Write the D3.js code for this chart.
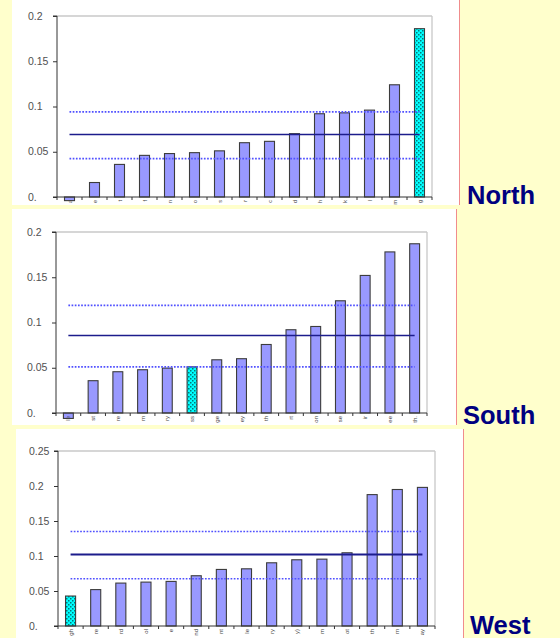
<!DOCTYPE html>
<html>
<head>
<meta charset="utf-8">
<script src="https://cdn.jsdelivr.net/npm/d3@7"></script>
<style>
  html, body { margin: 0; padding: 0; background: #FFFFCC; }
  svg { display: block; }
</style>
</head>
<body>
<svg id="chart" width="560" height="638"></svg>
<script>
// ---------------- DATA ----------------
const northCategories = ["a","e","t","f","n","o","s","r","c","d","h","k","l","m","g"];
const northValues = [-0.004, 0.016, 0.036, 0.046, 0.048, 0.049, 0.051, 0.060, 0.0615, 0.070, 0.092, 0.093, 0.096, 0.124, 0.186];
const northMean = 0.069, northUpper = 0.094, northLower = 0.0424;
const northHighlight = "g";

const southCategories = ["le","st","re","rn","ry","ss","ge","ey","th","rt","on","se","ir","ee","th."];
const southValues = [-0.006, 0.0357, 0.0456, 0.0478, 0.0496, 0.051, 0.0588, 0.060, 0.0757, 0.092, 0.0956, 0.124, 0.152, 0.178, 0.187];
const southMean = 0.0857, southUpper = 0.119, southLower = 0.051;
const southHighlight = "ss";

const westCategories = ["gh","re","rd","ol","e","nd","nt","le","ry","y)","m","ot","th","rn","ay"];
const westValues = [0.0428, 0.052, 0.0613, 0.0627, 0.0637, 0.0718, 0.0808, 0.0817, 0.0903, 0.0946, 0.0955, 0.1046, 0.1877, 0.195, 0.198];
const westMean = 0.102, westUpper = 0.135, westLower = 0.0675;
const westHighlight = "gh";

const ticks020 = [0, 0.05, 0.1, 0.15, 0.2];
const tickLabels020 = ["0.", "0.05", "0.1", "0.15", "0.2"];
const ticks025 = [0, 0.05, 0.1, 0.15, 0.2, 0.25];
const tickLabels025 = ["0.", "0.05", "0.1", "0.15", "0.2", "0.25"];

const regionNames = ["North", "South", "West"];

// ---------------- LAYOUT ----------------
const panels = [
  { name: regionNames[0], cats: northCategories, vals: northValues, mean: northMean, upper: northUpper, lower: northLower, hi: northHighlight,
    ticks: ticks020, tickLabels: tickLabels020, ymax: 0.2, catFont: 5.5,
    box: { x0: 12, y0: 0, x1: 459, y1: 205 }, plot: { l: 57, t: 16, r: 432, b: 197 }, labelPos: [467, 204], meanW: 1.5 },
  { name: regionNames[1], cats: southCategories, vals: southValues, mean: southMean, upper: southUpper, lower: southLower, hi: southHighlight,
    ticks: ticks020, tickLabels: tickLabels020, ymax: 0.2, catFont: 6,
    box: { x0: 12, y0: 209, x1: 456, y1: 425 }, plot: { l: 56, t: 232, r: 427, b: 413 }, labelPos: [463, 423.5], meanW: 1.5 },
  { name: regionNames[2], cats: westCategories, vals: westValues, mean: westMean, upper: westUpper, lower: westLower, hi: westHighlight,
    ticks: ticks025, tickLabels: tickLabels025, ymax: 0.25, catFont: 6,
    box: { x0: 16, y0: 429, x1: 463, y1: 638 }, plot: { l: 58, t: 451, r: 435, b: 626 }, labelPos: [470, 633.5], meanW: 2 }
];

const svg = d3.select("#chart");
svg.append("rect").attr("x", 0).attr("y", 0).attr("width", 560).attr("height", 638).attr("fill", "#FFFFCC");

const defs = svg.append("defs");
const pat = defs.append("pattern").attr("id", "checker").attr("patternUnits", "userSpaceOnUse")
  .attr("width", 4).attr("height", 4);
pat.append("rect").attr("width", 4).attr("height", 4).attr("fill", "#00FFFF");
pat.append("rect").attr("x", 0).attr("y", 0).attr("width", 1.5).attr("height", 1.5).attr("fill", "#007a7a");
pat.append("rect").attr("x", 2).attr("y", 2).attr("width", 1.5).attr("height", 1.5).attr("fill", "#007a7a");

const font = "'Liberation Sans', Arial, sans-serif";

panels.forEach((p, i) => {
  const b = p.box, pl = p.plot;
  const clipId = "clip" + i;
  defs.append("clipPath").attr("id", clipId)
    .append("rect").attr("x", b.x0).attr("y", b.y0).attr("width", b.x1 - b.x0).attr("height", b.y1 - b.y0);

  // white panel
  svg.append("rect").attr("x", b.x0).attr("y", b.y0).attr("width", b.x1 - b.x0).attr("height", b.y1 - b.y0)
    .attr("fill", "#FFFFFF");
  // pink separator
  svg.append("line").attr("x1", b.x1 + 0.5).attr("x2", b.x1 + 0.5).attr("y1", b.y0).attr("y2", b.y1)
    .attr("stroke", "#F08C8C").attr("stroke-width", 1);

  const g = svg.append("g").attr("clip-path", `url(#${clipId})`);

  const x = d3.scaleBand().domain(p.cats).range([pl.l, pl.r]).paddingInner(0.6).paddingOuter(0.3);
  const y = d3.scaleLinear().domain([0, p.ymax]).range([pl.b, pl.t]);

  // plot border (top & right) light gray
  g.append("line").attr("x1", pl.l).attr("x2", pl.r).attr("y1", pl.t).attr("y2", pl.t)
    .attr("stroke", "#C8C8C8").attr("stroke-width", 1.3);
  g.append("line").attr("x1", pl.r).attr("x2", pl.r).attr("y1", pl.t).attr("y2", pl.b)
    .attr("stroke", "#C8C8C8").attr("stroke-width", 1.3);

  // bars
  const data = p.cats.map((c, k) => ({ c, v: p.vals[k] }));
  g.selectAll("rect.bar").data(data).enter().append("rect")
    .attr("class", "bar")
    .attr("x", d => x(d.c))
    .attr("y", d => y(Math.max(0, d.v)))
    .attr("width", x.bandwidth())
    .attr("height", d => Math.abs(y(d.v) - y(0)))
    .attr("fill", d => d.c === p.hi ? "url(#checker)" : "#9999FF")
    .attr("stroke", "#3c3c3c").attr("stroke-width", 1.1);

  // reference lines
  const xs = x(p.cats[0]) + x.bandwidth() / 2;
  const xe = x(p.cats[p.cats.length - 1]) + x.bandwidth() / 2;
  [p.upper, p.lower].forEach(v => {
    g.append("line").attr("x1", xs).attr("x2", xe).attr("y1", y(v)).attr("y2", y(v))
      .attr("stroke", "#5050FF").attr("stroke-width", 1.7).attr("stroke-dasharray", "1.7,1.5");
  });
  g.append("line").attr("x1", xs).attr("x2", xe).attr("y1", y(p.mean)).attr("y2", y(p.mean))
    .attr("stroke", "#1C1C8C").attr("stroke-width", p.meanW);

  // y axis
  const yAxis = d3.axisLeft(y).tickValues(p.ticks).tickSize(4).tickFormat("");
  const ya = g.append("g").attr("transform", `translate(${pl.l},0)`).call(yAxis);
  ya.select(".domain").attr("stroke", "#333").attr("d", `M-4,${pl.t}H0V${pl.b}`);
  ya.selectAll(".tick line").attr("stroke", "#333");
  g.selectAll("text.ytl").data(p.ticks).enter().append("text")
    .attr("class", "ytl")
    .attr("x", pl.l - 29)
    .attr("y", d => y(d))
    .attr("dy", "0.35em")
    .attr("font-family", font).attr("font-size", 10.5).attr("fill", "#505050")
    .text((d, k) => p.tickLabels[k]);

  // x axis line
  g.append("line").attr("x1", pl.l - 4).attr("x2", pl.r).attr("y1", y(0)).attr("y2", y(0))
    .attr("stroke", "#333").attr("stroke-width", 1);
  // x ticks at band boundaries
  const step = x.step();
  const bounds = p.cats.map(c => x(c) - (step - x.bandwidth()) / 2).concat([pl.r]);
  g.selectAll("line.xt").data(bounds).enter().append("line")
    .attr("class", "xt")
    .attr("x1", d => d).attr("x2", d => d)
    .attr("y1", y(0)).attr("y2", y(0) + 3)
    .attr("stroke", "#333");
  // category labels (rotated)
  g.selectAll("text.xl").data(p.cats).enter().append("text")
    .attr("class", "xl")
    .attr("transform", c => `translate(${x(c) + x.bandwidth() / 2 + 2},${y(0) + 3}) rotate(-90)`)
    .attr("text-anchor", "end")
    .attr("font-family", font).attr("font-size", p.catFont).attr("fill", "#444")
    .text(c => c);

  // region label
  svg.append("text").attr("x", p.labelPos[0]).attr("y", p.labelPos[1])
    .attr("font-family", font).attr("font-weight", "bold").attr("font-size", 25.5)
    .attr("fill", "#000080").text(p.name);
});
</script>
</body>
</html>
